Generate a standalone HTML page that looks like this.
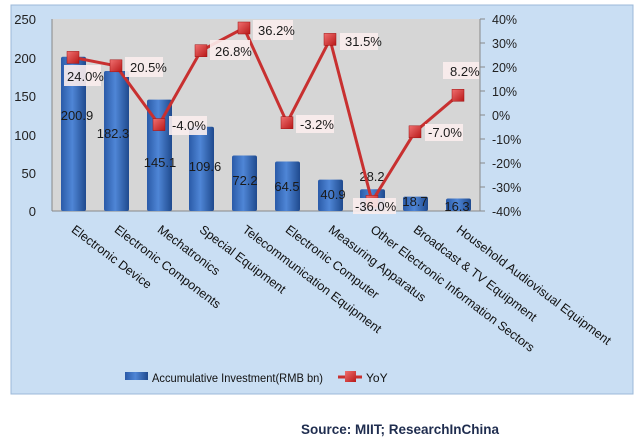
<!DOCTYPE html>
<html><head><meta charset="utf-8"><style>
html,body{margin:0;padding:0;background:#fff;}
svg{display:block;font-family:"Liberation Sans",sans-serif;}
</style></head><body>
<svg width="641" height="440" viewBox="0 0 641 440" xmlns="http://www.w3.org/2000/svg">
<defs>
<linearGradient id="bar" x1="0" x2="1" y1="0" y2="0">
<stop offset="0" stop-color="#2a5aa8"/><stop offset="0.45" stop-color="#4f86d6"/><stop offset="1" stop-color="#1f4a8e"/>
</linearGradient>
<linearGradient id="mk" x1="0" x2="1" y1="0" y2="1">
<stop offset="0" stop-color="#f07070"/><stop offset="1" stop-color="#b81818"/>
</linearGradient>
</defs>
<rect x="11" y="5" width="622" height="389" fill="#c9def3" stroke="#9cb8d8"/>
<rect x="52" y="19" width="428" height="192" fill="#d6d6d6"/>
<line x1="52" y1="19" x2="52" y2="211" stroke="#888"/>
<line x1="52" y1="211" x2="480" y2="211" stroke="#888"/>
<line x1="480" y1="19" x2="480" y2="211" stroke="#888"/>
<g font-size="13" fill="#222" text-anchor="end">
<text x="36" y="24">250</text><text x="36" y="63">200</text><text x="36" y="101">150</text>
<text x="36" y="140">100</text><text x="36" y="178">50</text><text x="36" y="216">0</text>
</g>
<g font-size="12.5" fill="#222">
<text x="492" y="24">40%</text><text x="492" y="48">30%</text><text x="492" y="72">20%</text>
<text x="492" y="96">10%</text><text x="492" y="120">0%</text><text x="492" y="144">-10%</text>
<text x="492" y="168">-20%</text><text x="492" y="192">-30%</text><text x="492" y="216">-40%</text>
</g>
<g stroke="#888">
<line x1="480" y1="19" x2="485" y2="19"/><line x1="480" y1="43" x2="485" y2="43"/><line x1="480" y1="67" x2="485" y2="67"/>
<line x1="480" y1="91" x2="485" y2="91"/><line x1="480" y1="115" x2="485" y2="115"/><line x1="480" y1="139" x2="485" y2="139"/>
<line x1="480" y1="163" x2="485" y2="163"/><line x1="480" y1="187" x2="485" y2="187"/><line x1="480" y1="211" x2="485" y2="211"/>
</g>
<g fill="url(#bar)">
<rect x="61" y="56.7" width="25" height="154.3" rx="2"/>
<rect x="104" y="71" width="25" height="140" rx="2"/>
<rect x="147" y="99.6" width="25" height="111.4" rx="2"/>
<rect x="189" y="126.8" width="25" height="84.2" rx="2"/>
<rect x="232" y="155.5" width="25" height="55.5" rx="2"/>
<rect x="275" y="161.5" width="25" height="49.5" rx="2"/>
<rect x="318" y="179.6" width="25" height="31.4" rx="2"/>
<rect x="360" y="189.3" width="25" height="21.7" rx="2"/>
<rect x="403" y="196.6" width="25" height="14.4" rx="2"/>
<rect x="446" y="198.5" width="25" height="12.5" rx="2"/>
</g>
<g font-size="13" fill="#1a1a1a" text-anchor="middle">
<text x="77" y="120">200.9</text><text x="113" y="138">182.3</text><text x="160" y="167">145.1</text>
<text x="205" y="171">109.6</text><text x="245" y="185">72.2</text><text x="287" y="191">64.5</text>
<text x="333" y="199">40.9</text><text x="372" y="181">28.2</text><text x="415" y="206">18.7</text><text x="457" y="211">16.3</text>
</g>
<polyline points="73,57.4 116,65.8 159,124.6 201,50.7 244,28 287,122.7 330,39.4 372,201.4 415,131.8 458,95.3" fill="none" stroke="#c83030" stroke-width="3"/>
<g fill="url(#mk)" stroke="#a01010" stroke-width="0.5">
<rect x="67" y="51.4" width="12" height="12"/><rect x="110" y="59.8" width="12" height="12"/>
<rect x="153" y="118.6" width="12" height="12"/><rect x="195" y="44.7" width="12" height="12"/>
<rect x="238" y="22" width="12" height="12"/><rect x="281" y="116.7" width="12" height="12"/>
<rect x="324" y="33.4" width="12" height="12"/><rect x="366" y="195.4" width="12" height="12"/>
<rect x="409" y="125.8" width="12" height="12"/><rect x="452" y="89.3" width="12" height="12"/>
</g>
<g fill="#fbeeee" opacity="0.9">
<rect x="64" y="65" width="37" height="21"/><rect x="125" y="57" width="38" height="20"/>
<rect x="169" y="116" width="38" height="19"/><rect x="210" y="40" width="40" height="20"/>
<rect x="253" y="20" width="40" height="20"/><rect x="296" y="115" width="38" height="18"/>
<rect x="340" y="33" width="38" height="17"/><rect x="353" y="198" width="43" height="16"/>
<rect x="425" y="124" width="38" height="17"/><rect x="443" y="62" width="36" height="17"/>
</g>
<g font-size="13" fill="#1a1a1a">
<text x="67" y="81">24.0%</text><text x="130" y="72">20.5%</text><text x="172" y="130">-4.0%</text>
<text x="215" y="56">26.8%</text><text x="258" y="35">36.2%</text><text x="300" y="129">-3.2%</text>
<text x="345" y="46">31.5%</text><text x="355" y="211">-36.0%</text><text x="428" y="137">-7.0%</text><text x="450" y="76">8.2%</text>
</g>
<g font-size="12.5" fill="#111">
<text transform="translate(73,228) rotate(37)" dy="4">Electronic Device</text>
<text transform="translate(116,228) rotate(37)" dy="4">Electronic Components</text>
<text transform="translate(159,228) rotate(37)" dy="4">Mechatronics</text>
<text transform="translate(201,228) rotate(37)" dy="4">Special Equipment</text>
<text transform="translate(244,228) rotate(37)" dy="4">Telecommunication Equipment</text>
<text transform="translate(287,228) rotate(37)" dy="4">Electronic Computer</text>
<text transform="translate(330,228) rotate(37)" dy="4">Measuring Apparatus</text>
<text transform="translate(372,228) rotate(37)" dy="4">Other Electronic Information Sectors</text>
<text transform="translate(415,228) rotate(37)" dy="4">Broadcast &amp; TV Equipment</text>
<text transform="translate(458,228) rotate(37)" dy="4">Household Audiovisual Equipment</text>
</g>
<rect x="125" y="372" width="23" height="8" fill="url(#bar)"/>
<text x="152" y="382" font-size="12" fill="#111" textLength="171" lengthAdjust="spacingAndGlyphs">Accumulative Investment(RMB bn)</text>
<line x1="338" y1="377" x2="362" y2="377" stroke="#c83030" stroke-width="3"/>
<rect x="345" y="371" width="11" height="11" fill="url(#mk)"/>
<text x="366" y="382" font-size="12" fill="#111">YoY</text>
<text x="499" y="434" font-size="13.5" font-weight="bold" fill="#1f2d4f" text-anchor="end">Source:  MIIT; ResearchInChina</text>
</svg>
</body></html>
